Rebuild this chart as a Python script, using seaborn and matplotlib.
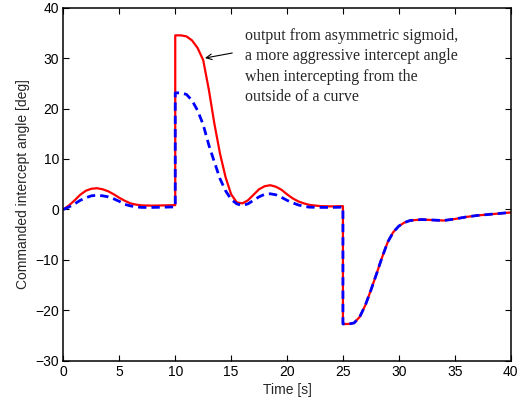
import matplotlib
matplotlib.use("Agg")
import matplotlib.pyplot as plt
import seaborn as sns
import pandas as pd

# time stamps (s); jumps are encoded by repeated time values
time_s = [0, 0.5, 1, 1.5, 2, 2.5, 3, 3.5, 4, 4.5, 5, 5.5, 6, 6.5, 7, 8, 9, 10, 10,
          10.5, 11, 11.5, 12, 12.5, 13, 13.5, 14, 14.5, 15, 15.5, 16, 16.5, 17, 17.5,
          18, 18.5, 19, 19.5, 20, 20.5, 21, 21.5, 22, 23, 24, 25, 25,
          25.5, 26, 26.5, 27, 27.5, 28, 28.5, 29, 29.5, 30, 30.5, 31, 32, 33, 34,
          35, 36, 37, 38, 39, 40]

# asymmetric sigmoid output (red, solid)
red_deg = [0, 0.8, 1.8, 2.9, 3.7, 4.1, 4.2, 4.0, 3.6, 3.0, 2.3, 1.7, 1.2, 0.95, 0.8, 0.75, 0.8, 0.85, 34.5,
           34.5, 34.3, 33.5, 32.0, 29.6, 23.8, 17.0, 11.1, 6.4, 3.0, 1.4, 1.2, 1.8, 2.9, 4.0,
           4.6, 4.8, 4.5, 3.9, 3.0, 2.2, 1.6, 1.2, 0.9, 0.65, 0.6, 0.65, -22.7,
           -22.7, -22.5, -21.3, -19.0, -16.0, -12.8, -9.5, -6.5, -4.5, -3.3, -2.6, -2.2, -2.0, -2.1, -2.2,
           -1.9, -1.5, -1.2, -1.0, -0.8, -0.6]

# symmetric output (blue, dashed)
blue_deg = [0, 0.5, 1.1, 1.8, 2.3, 2.7, 2.8, 2.7, 2.5, 2.1, 1.6, 1.0, 0.7, 0.5, 0.4, 0.4, 0.45, 0.5, 23.1,
            23.1, 22.8, 21.6, 19.6, 16.8, 12.8, 9.4, 6.1, 3.7, 2.0, 1.1, 0.8, 1.1, 1.8, 2.5,
            3.0, 3.1, 2.9, 2.4, 1.8, 1.3, 0.9, 0.6, 0.45, 0.4, 0.4, 0.45, -22.7,
            -22.7, -22.5, -21.3, -19.0, -16.0, -12.8, -9.5, -6.5, -4.5, -3.3, -2.6, -2.2, -2.0, -2.1, -2.2,
            -1.9, -1.5, -1.2, -1.0, -0.8, -0.6]

x_ticks = [0, 5, 10, 15, 20, 25, 30, 35, 40]
y_ticks = [-30, -20, -10, 0, 10, 20, 30, 40]

annotation = ("output from asymmetric sigmoid,\n"
              "a more aggressive intercept angle\n"
              "when intercepting from the\n"
              "outside of a curve")

sns.set_style("ticks")
plt.rcParams["font.family"] = ["Liberation Sans", "DejaVu Sans"]
plt.rcParams["xtick.direction"] = "in"
plt.rcParams["ytick.direction"] = "in"

df = pd.DataFrame({"t": time_s, "red": red_deg, "blue": blue_deg})

fig = plt.figure(figsize=(5.2, 4.0), dpi=100)
ax = fig.add_axes([0.122, 0.098, 0.860, 0.883])

sns.lineplot(data=df, x="t", y="red", ax=ax, color="#ff0000", linewidth=1.6,
             estimator=None, sort=False)
sns.lineplot(data=df, x="t", y="blue", ax=ax, color="#0000ff", linewidth=2.0,
             estimator=None, sort=False, linestyle=(0, (3, 1.8)))

ax.set_xlim(0, 40)
ax.set_ylim(-30, 40)
ax.set_xticks(x_ticks)
ax.set_yticks(y_ticks)
ax.set_xticklabels([str(v) for v in x_ticks])
ax.set_yticklabels([str(v).replace("-", "\u2212") for v in y_ticks])
ax.tick_params(axis="both", which="both", labelsize=10, length=4, width=0.8,
               top=True, right=True, colors="black", pad=3)
for s in ax.spines.values():
    s.set_visible(True)
    s.set_linewidth(1.1)
    s.set_color("black")

ax.set_xlabel("Time [s]", fontsize=10, labelpad=3)
ax.set_ylabel("Commanded intercept angle [deg]", fontsize=10, labelpad=4)

ax.text(16.2, 36.0, annotation, family=["Liberation Serif", "DejaVu Serif"],
        fontsize=11.4, va="top", ha="left", linespacing=1.37)
ax.annotate("", xy=(12.66, 30.0), xytext=(15.1, 31.0),
            arrowprops=dict(arrowstyle="->", color="black", lw=0.8,
                            shrinkA=0, shrinkB=0))

fig.savefig("out.png", dpi=100)
